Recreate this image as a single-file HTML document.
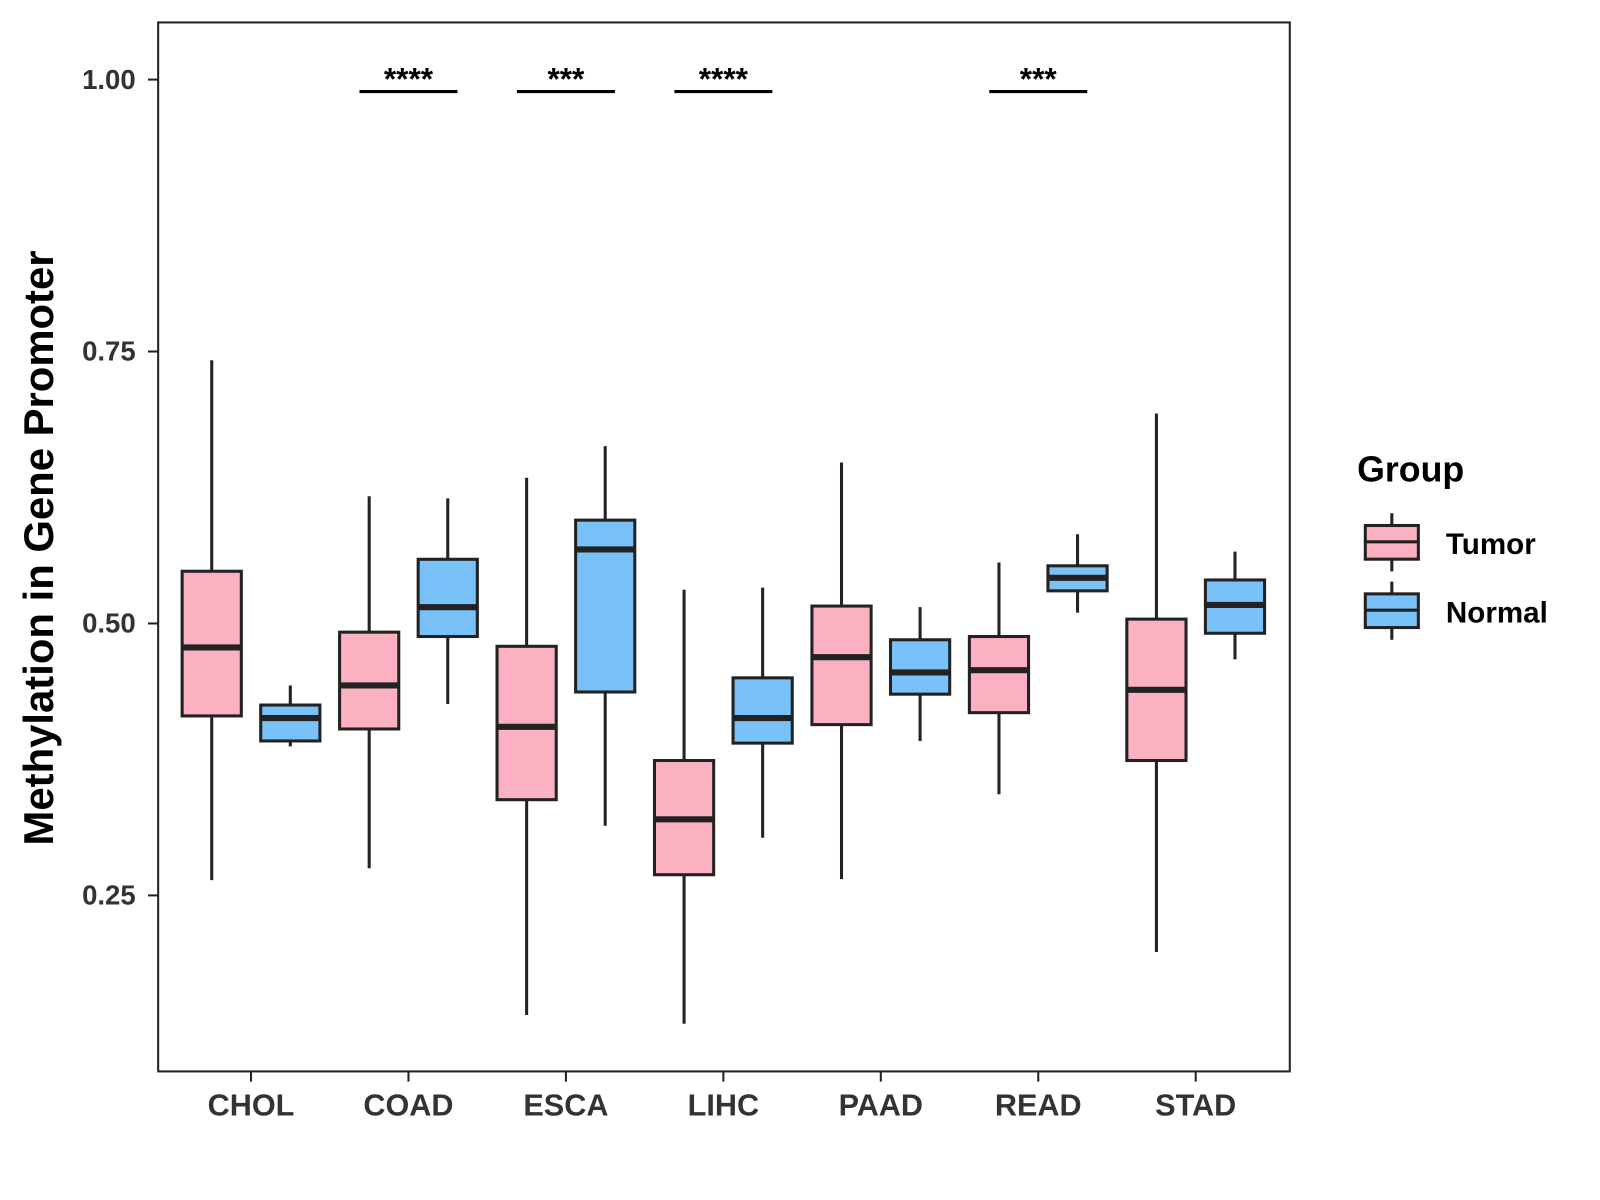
<!DOCTYPE html>
<html><head><meta charset="utf-8"><style>
html,body{margin:0;padding:0;background:#fff;}
svg{display:block;font-family:"Liberation Sans",Arial,sans-serif;}
</style></head><body>
<svg id="chart" width="1600" height="1200" viewBox="0 0 1600 1200">
<rect x="0" y="0" width="1600" height="1200" fill="#fff"/>
<g transform="scale(1.0204)">
<rect x="155" y="22" width="1109" height="1028" fill="#fff" stroke="#222" stroke-width="2"/>
<g id="yaxis"></g>
<g id="xaxis"></g>
<g id="boxes"></g>
<g id="sig"></g>
<text x="52" y="537" transform="rotate(-90 52 537)" text-anchor="middle" font-size="41" font-weight="bold" fill="#000">Methylation in Gene Promoter</text>
<g>
<text x="1330" y="472" font-size="35" font-weight="bold" fill="#000">Group</text>
<g>
<line x1="1364" y1="503" x2="1364" y2="560" stroke="#222" stroke-width="3"/>
<rect x="1338" y="515" width="52" height="33" fill="#FBB1C2" stroke="#222" stroke-width="3"/>
<line x1="1338" y1="531" x2="1390" y2="531" stroke="#222" stroke-width="3"/>
<text x="1417" y="543" font-size="29" font-weight="bold" fill="#000">Tumor</text>
</g>
<g>
<line x1="1364" y1="570" x2="1364" y2="627" stroke="#222" stroke-width="3"/>
<rect x="1338" y="582" width="52" height="33" fill="#79C2F7" stroke="#222" stroke-width="3"/>
<line x1="1338" y1="598" x2="1390" y2="598" stroke="#222" stroke-width="3"/>
<text x="1417" y="610" font-size="29" font-weight="bold" fill="#000">Normal</text>
</g>
</g>
</g>
</svg>
<script>
const categories=["CHOL","COAD","ESCA","LIHC","PAAD","READ","STAD"];
const tumorMin=[0.264,0.275,0.140,0.132,0.265,0.343,0.198];
const tumorQ1=[0.415,0.403,0.338,0.269,0.407,0.418,0.374];
const tumorMed=[0.478,0.443,0.405,0.320,0.469,0.457,0.439];
const tumorQ3=[0.548,0.492,0.479,0.374,0.516,0.488,0.504];
const tumorMax=[0.742,0.617,0.634,0.531,0.648,0.556,0.693];
const normalMin=[0.387,0.426,0.314,0.303,0.392,0.510,0.467];
const normalQ1=[0.392,0.488,0.437,0.390,0.435,0.530,0.491];
const normalMed=[0.413,0.515,0.568,0.413,0.455,0.542,0.517];
const normalQ3=[0.425,0.559,0.595,0.450,0.485,0.553,0.540];
const normalMax=[0.443,0.615,0.663,0.533,0.515,0.582,0.566];
const sigLabels=["","****","***","****","","***",""];
const yTicks=[0.25,0.50,0.75,1.00];
const yTickLabels=["0.25","0.50","0.75","1.00"];
const sigLevel=0.989;

const NS="http://www.w3.org/2000/svg";
function y(v){return 78+(1-v)*1066;}
function x(i){return 246+i*154.3;}
function mk(tag,attrs,parent){const e=document.createElementNS(NS,tag);for(const k in attrs)e.setAttribute(k,attrs[k]);parent.appendChild(e);return e;}
const ya=document.getElementById('yaxis'),xa=document.getElementById('xaxis'),bx=document.getElementById('boxes'),sg=document.getElementById('sig');
yTicks.forEach((t,i)=>{
  const l=mk('line',{x1:145,x2:155,y1:y(t),y2:y(t),stroke:'#222','stroke-width':2},ya);
  
  
  const tx=mk('text',{x:133,y:y(t)+9,'text-anchor':'end','font-size':27,'font-weight':'bold',fill:'#333'},ya);
  tx.textContent=yTickLabels[i];
  
  
});
categories.forEach((c,i)=>{
  const l=mk('line',{x1:x(i),x2:x(i),y1:1050,y2:1060,stroke:'#222','stroke-width':2},xa);
  
  
  const tx=mk('text',{x:x(i),y:1093,'text-anchor':'middle','font-size':30,'font-weight':'bold',fill:'#333'},xa);
  tx.textContent=c;
  
  
});
function box(cx,mn,q1,md,q3,mx,fill,name){
  const g=mk('g',{},bx);
  
  
  mk('line',{x1:cx,x2:cx,y1:y(mx),y2:y(mn),stroke:'#222','stroke-width':3},g);
  mk('rect',{x:cx-29,y:y(q3),width:58,height:y(q1)-y(q3),fill:fill,stroke:'#222','stroke-width':3},g);
  mk('line',{x1:cx-29,x2:cx+29,y1:y(md),y2:y(md),stroke:'#222','stroke-width':6},g);
}
categories.forEach((c,i)=>{
  box(x(i)-38.5,tumorMin[i],tumorQ1[i],tumorMed[i],tumorQ3[i],tumorMax[i],'#FBB1C2','box-tumor-'+c.toLowerCase());
  box(x(i)+38.5,normalMin[i],normalQ1[i],normalMed[i],normalQ3[i],normalMax[i],'#79C2F7','box-normal-'+c.toLowerCase());
  if(sigLabels[i]){
    const l=mk('line',{x1:x(i)-48,x2:x(i)+48,y1:y(sigLevel),y2:y(sigLevel),stroke:'#000','stroke-width':3},sg);
    
    
    const t=mk('text',{x:x(i),y:y(sigLevel)-2,'text-anchor':'middle','font-size':31,'font-weight':'bold',fill:'#000'},sg);
    t.textContent=sigLabels[i];
    
    
  }
});
</script>
</body></html>
